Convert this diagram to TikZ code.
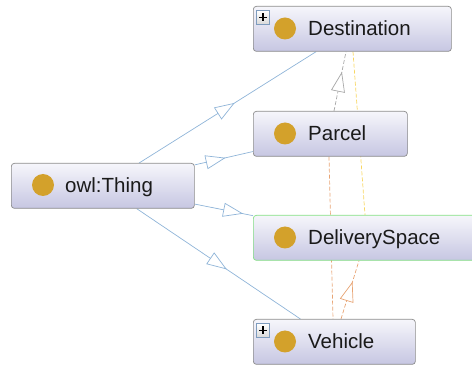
\documentclass[tikz,border=0pt]{standalone}
\usepackage{fontspec}
\setmainfont{Liberation Sans}
\usetikzlibrary{arrows.meta,decorations.markings,calc}
\definecolor{edgeblue}{HTML}{8FB4D8}
\definecolor{edgegray}{HTML}{A8A8A8}
\definecolor{edgeyellow}{HTML}{F8D660}
\definecolor{edgeorange}{HTML}{E8A474}
\definecolor{boxtop}{HTML}{F6F6FB}
\definecolor{boxbot}{HTML}{C6C6E2}
\definecolor{boxborder}{HTML}{8C8C8C}
\definecolor{boxgreen}{HTML}{84E084}
\definecolor{dotgold}{HTML}{D3A12B}
\definecolor{txt}{HTML}{1A1A1A}
\definecolor{plusborder}{HTML}{7E9CBE}
\begin{document}
\begin{tikzpicture}[x=1pt,y=-1pt,
  cls/.style={draw=boxborder, line width=0.7pt, rounded corners=3pt,
    top color=boxtop, bottom color=boxbot, minimum height=45pt,
    inner sep=0pt, anchor=north west},
  dot/.style={circle, fill=dotgold, minimum size=22pt, inner sep=0pt},
  lbl/.style={anchor=base west, inner sep=0pt, text=txt,
    font=\fontsize{20.5}{24}\selectfont},
  plusbox/.style={draw=plusborder, line width=0.8pt, top color=white,
    bottom color=gray!30, minimum size=13.5pt, inner sep=0pt,
    path picture={\draw[line width=1.8pt, black]
      ($(path picture bounding box.center)+(-4,0)$) -- ($(path picture bounding box.center)+(4,0)$)
      ($(path picture bounding box.center)+(0,-4)$) -- ($(path picture bounding box.center)+(0,4)$);}},
  midarrow/.style={postaction={decorate}, decoration={markings,
    mark=at position #1 with {\arrow{Triangle[length=20pt,width=14pt,fill=white]}}}},
  blueedge/.style={draw=edgeblue, line width=0.7pt},
  dashedge/.style={line width=0.7pt, dash pattern=on 4pt off 2pt}
]
\useasboundingbox (0,0) rectangle (472,366);

% box anchors (invisible; the visible boxes are drawn on top of the edges)
\path (253,6) node[cls, minimum width=198pt, draw=none, fill=none, shade=none] (dest) {};
\path (253,111) node[cls, minimum width=154pt, draw=none, fill=none, shade=none] (parcel) {};
\path (253,215) node[cls, minimum width=223pt, draw=none, fill=none, shade=none] (ds) {};
\path (253,319) node[cls, minimum width=162pt, draw=none, fill=none, shade=none] (veh) {};
\path (11,163) node[cls, minimum width=183pt, draw=none, fill=none, shade=none] (thing) {};

% dashed edges
\draw[dashedge, draw=edgeyellow] ($(dest.south west)+(100,0)$) -- ($(ds.north west)+(112,0)$);
\draw[dashedge, draw=edgeorange] ($(parcel.south west)+(76,0)$) -- ($(veh.north west)+(80,0)$);
\draw[dashedge, draw=edgegray, midarrow=0.66] ($(parcel.north west)+(81,0)$) -- ($(dest.south west)+(93,0)$);
\draw[dashedge, draw=edgeorange, midarrow=0.64] ($(veh.north west)+(88,0)$) -- ($(ds.south west)+(106,0)$);

% inheritance edges
\draw[blueedge, midarrow=0.54] (thing) -- (dest);
\draw[blueedge, midarrow=0.53] (thing) -- (parcel);
\draw[blueedge, midarrow=0.83] (thing) -- (ds);
\draw[blueedge, midarrow=0.55] (thing) -- (veh);

% visible boxes
\node[cls, minimum width=198pt] (destbox) at (253,6) {};
\node[cls, minimum width=154pt] (parcelbox) at (253,111) {};
\node[cls, minimum width=223pt, draw=boxgreen] (dsbox) at (253,215) {};
\node[cls, minimum width=162pt] (vehbox) at (253,319) {};
\node[cls, minimum width=183pt] (thingbox) at (11,163) {};

% dots
\node[dot] (destdot) at (285,28.5) {};
\node[dot] (parceldot) at (285,133.5) {};
\node[dot] (dsdot) at (285,237.5) {};
\node[dot] (vehdot) at (285,341.5) {};
\node[dot] (thingdot) at (43,185) {};

% labels
\node[lbl] (desttxt) at (308,36) {Destination};
\node[lbl] (parceltxt) at (308,141) {Parcel};
\node[lbl] (dstxt) at (308,245) {DeliverySpace};
\node[lbl] (vehtxt) at (308,349) {Vehicle};
\node[lbl] (thingtxt) at (65,192.5) {owl:Thing};

% expand icons
\node[plusbox] (destplus) at (263,17.5) {};
\node[plusbox] (vehplus) at (263,330.5) {};
\end{tikzpicture}
\end{document}
